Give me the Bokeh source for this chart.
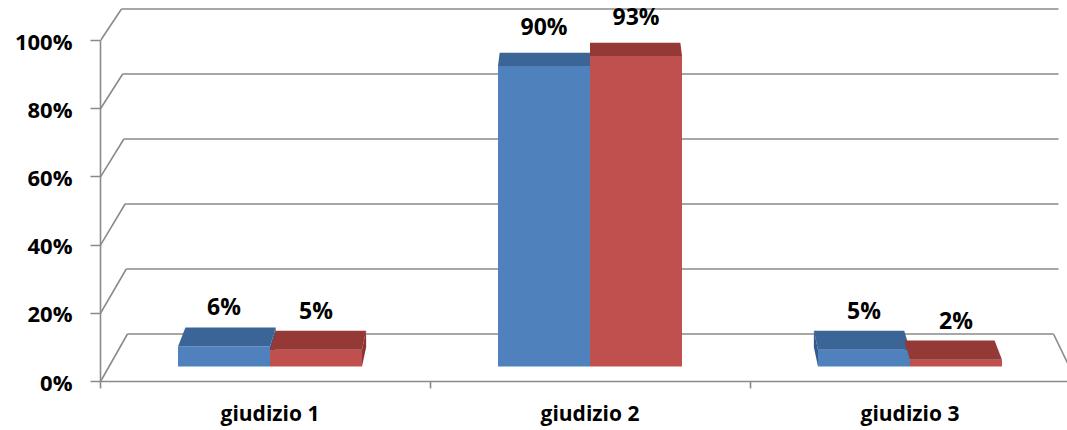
from bokeh.plotting import figure
from bokeh.models import Range1d, FixedTicker, LinearAxis, ColumnDataSource
from bokeh.core.properties import value
from bokeh.embed import file_html
from bokeh.resources import INLINE

# ---------------- data ----------------
categories = ["giudizio 1", "giudizio 2", "giudizio 3"]
series_blue = [6, 90, 5]
series_red = [5, 93, 2]
tick_values = [0, 20, 40, 60, 80, 100]
tick_labels = ["0%", "20%", "40%", "60%", "80%", "100%"]

# ---------------- geometry (pixel model of the 3D Excel view) ----------------
FRAME_L, FRAME_R, FRAME_B = 100, 1067, 381
CX, PXU = 589.5, 320.0           # pixel of category 1, px per category
BAR_Y0, BAR_K = 366.0, 3.34      # bar baseline pixel, px per percent
FRONT_Y0, FRONT_K = 381.0, 3.41  # front axis
BACK_Y0, BACK_K = 333.5, 3.25    # back wall
BAR_W = 0.2875
GRAY = "#8a8a8a"
FONT = "Open Sans"


def ux(px):
    return 1 + (px - CX) / PXU


def vy(py):
    return (BAR_Y0 - py) / BAR_K


def depth(py):
    return 13 + 0.0204 * (py - 55)


def shift(u):
    return 0.018 * (1 - u)


p = figure(width=1067, height=430,
           x_range=Range1d(ux(FRAME_L), ux(FRAME_R)),
           y_range=Range1d(vy(FRAME_B), vy(0)),
           output_backend="svg", toolbar_location=None,
           y_axis_location=None,
           min_border_left=FRAME_L, min_border_right=0,
           min_border_top=0, min_border_bottom=430 - FRAME_B)
p.outline_line_color = None
p.xgrid.visible = False
p.ygrid.visible = False
p.background_fill_color = "white"

# ---------------- walls / gridlines ----------------
seg = dict(x0=[], y0=[], x1=[], y1=[])
for v in tick_values:
    back_py = BACK_Y0 - BACK_K * v
    front_py = FRONT_Y0 - FRONT_K * v
    xl = 127 - 0.06 * v
    xr = 1058 if v > 0 else 1053
    seg["x0"] += [ux(xl), ux(FRAME_L)]
    seg["y0"] += [vy(back_py), vy(front_py)]
    seg["x1"] += [ux(xr), ux(xl)]
    seg["y1"] += [vy(back_py), vy(back_py)]
# floor right edge
seg["x0"].append(ux(1053)); seg["y0"].append(vy(BACK_Y0))
seg["x1"].append(ux(1076)); seg["y1"].append(vy(FRONT_Y0))
p.segment(x0="x0", y0="y0", x1="x1", y1="y1", source=ColumnDataSource(seg),
          line_color=GRAY, line_width=1.6)

# ---------------- bars ----------------
series = [(series_blue, -1, "#4F81BD", "#3B6497", "#34598A"),
          (series_red, 1, "#C0504D", "#953937", "#8A3432")]

sides = dict(xs=[], ys=[], c=[])
fronts = dict(x=[], top=[], c=[])
tops = dict(xs=[], ys=[], c=[])
labels = dict(x=[], y=[], t=[])
for vals, sgn, cf, ct, cs in series:
    for i, val in enumerate(vals):
        xc = i + sgn * BAR_W / 2
        xl, xr = xc - BAR_W / 2, xc + BAR_W / 2
        fpy = BAR_Y0 - BAR_K * val
        vb = val + depth(fpy) / BAR_K
        vb0 = depth(BAR_Y0) / BAR_K
        fronts["x"].append(xc); fronts["top"].append(val); fronts["c"].append(cf)
        tops["xs"].append([xl, xr, xr + shift(xr), xl + shift(xl)])
        tops["ys"].append([val, val, vb, vb])
        tops["c"].append(ct)
        xe = xr if shift(xc) > 0 else xl
        sides["xs"].append([xe, xe, xe + shift(xe), xe + shift(xe)])
        sides["ys"].append([0, val, vb, vb0])
        sides["c"].append(cs)
        labels["x"].append(xc); labels["y"].append(val); labels["t"].append(f"{val}%")

p.patches(xs="xs", ys="ys", fill_color="c", line_color=None, source=ColumnDataSource(sides))
p.vbar(x="x", top="top", bottom=0, width=BAR_W, fill_color="c", line_color=None,
       source=ColumnDataSource(fronts))
p.patches(xs="xs", ys="ys", fill_color="c", line_color=None, source=ColumnDataSource(tops))

p.text(x="x", y="y", text="t", source=ColumnDataSource(labels),
       text_font=value(FONT), text_font_style="bold", text_font_size="23px",
       text_color="black", text_align="center", text_baseline="bottom", y_offset=-24)

# ---------------- axes ----------------
p.extra_y_ranges = {"front": Range1d(0, FRONT_Y0 / FRONT_K)}
yax = LinearAxis(y_range_name="front")
yax.ticker = FixedTicker(ticks=tick_values)
yax.major_label_overrides = {v: s for v, s in zip(tick_values, tick_labels)}
yax.bounds = (0, 100)
yax.axis_line_color = GRAY
yax.axis_line_width = 1.6
yax.major_tick_line_color = GRAY
yax.major_tick_line_width = 1.6
yax.major_tick_out = 10
yax.major_tick_in = 0
yax.minor_tick_line_color = None
yax.major_label_standoff = 18
yax.major_label_text_font = FONT
yax.major_label_text_font_style = "bold"
yax.major_label_text_font_size = "22px"
yax.major_label_text_color = "black"
p.add_layout(yax, "left")

xax = p.xaxis[0]
xax.ticker = FixedTicker(ticks=[0, 1, 2], minor_ticks=[ux(FRAME_L) + 0.001, 0.5, 1.5])
xax.major_label_overrides = {i: c for i, c in enumerate(categories)}
xax.axis_line_color = GRAY
xax.axis_line_width = 1.6
xax.major_tick_line_color = None
xax.major_tick_out = 0
xax.major_tick_in = 0
xax.minor_tick_line_color = GRAY
xax.minor_tick_line_width = 1.6
xax.minor_tick_out = 7
xax.minor_tick_in = 0
xax.major_label_standoff = 10
xax.major_label_text_font = FONT
xax.major_label_text_font_style = "bold"
xax.major_label_text_font_size = "21px"
xax.major_label_text_color = "black"

open("out.html", "w").write(file_html(p, INLINE))
